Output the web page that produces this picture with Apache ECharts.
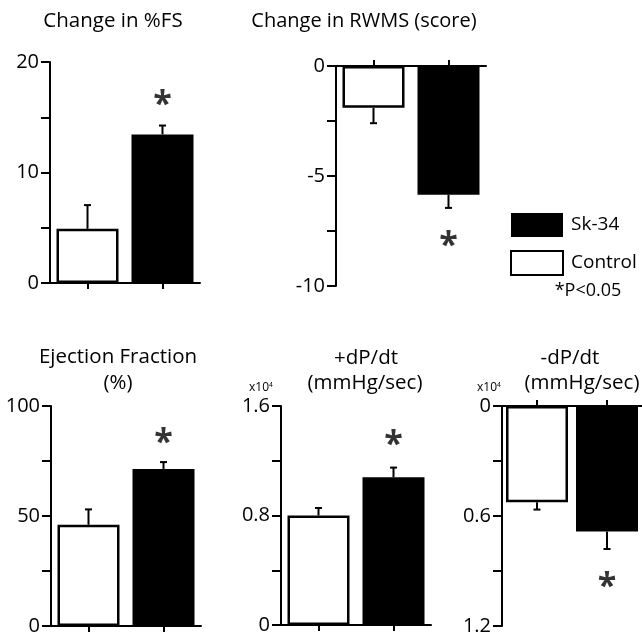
<!DOCTYPE html>
<html>
<head>
<meta charset="utf-8">
<script src="https://cdn.jsdelivr.net/npm/echarts@6/dist/echarts.min.js"></script>
<style>html,body{margin:0;padding:0;background:#fff}#c{width:642px;height:636px}</style>
</head>
<body>
<div id="c"></div>
<script>
// ---- data ----
const groups = ['Control', 'Sk-34'];
// Change in %FS
const fsMean = [4.9, 13.45];
const fsErr = [2.15, 0.8];
// Change in RWMS (score)
const rwmsMean = [-1.9, -5.85];
const rwmsErr = [0.7, 0.6];
// Ejection Fraction (%)
const efMean = [46, 71.4];
const efErr = [7, 3.1];
// +dP/dt (x10^4 mmHg/sec)
const dpPlusMean = [0.80, 1.08];
const dpPlusErr = [0.055, 0.07];
// -dP/dt (x10^4 mmHg/sec), plotted downward
const dpMinusMean = [0.525, 0.685];
const dpMinusErr = [0.04, 0.095];
// significance marker positions (value units)
const starPos = [16.9, -7.8, 87, 1.38, 0.94];
// tick settings per panel: [min, max, interval, labelStep]
const axisTicks = [[0, 20, 5, 10], [-10, 0, 2.5, 5], [0, 100, 25, 50], [0, 1.6, 0.4, 0.8], [0, 1.2, 0.3, 0.6]];

const FONT = 'Open Sans';
const panels = [
  {mean: fsMean, err: fsErr, sign: 1, top: false, inverse: false},
  {mean: rwmsMean, err: rwmsErr, sign: -1, top: true, inverse: false},
  {mean: efMean, err: efErr, sign: 1, top: false, inverse: false},
  {mean: dpPlusMean, err: dpPlusErr, sign: 1, top: false, inverse: false},
  {mean: dpMinusMean, err: dpMinusErr, sign: 1, top: true, inverse: true}
];
const grids = [
  {left: 50, top: 62, width: 150, height: 221},
  {left: 336, top: 66, width: 150, height: 220},
  {left: 51, top: 406, width: 150, height: 220},
  {left: 281, top: 406, width: 150, height: 219},
  {left: 502, top: 406, width: 150, height: 220}
];

const chart = echarts.init(document.getElementById('c'));
const xAxis = [], yAxis = [], series = [];
panels.forEach((p, i) => {
  const [mn, mx, iv, step] = axisTicks[i];
  xAxis.push({
    gridIndex: i, type: 'category', data: groups, position: p.top ? 'top' : 'bottom',
    axisLine: {show: true, onZero: false, lineStyle: {color: '#000', width: 2}},
    axisTick: {show: true, alignWithLabel: true, length: 6, lineStyle: {color: '#000', width: 2}},
    axisLabel: {show: false}, splitLine: {show: false}
  });
  yAxis.push({
    gridIndex: i, type: 'value', min: mn, max: mx, interval: iv, inverse: p.inverse,
    axisLine: {show: true, lineStyle: {color: '#000', width: 2}},
    axisTick: {show: true, length: 9, lineStyle: {color: '#000', width: 2}},
    splitLine: {show: false},
    axisLabel: {
      color: '#000', fontSize: 20, fontFamily: FONT, margin: 11,
      formatter: v => {
        const r = v / step;
        return Math.abs(r - Math.round(r)) < 1e-6 ? String(Math.round(v * 100) / 100) : '';
      }
    }
  });
  series.push({
    name: 'Control', type: 'bar', xAxisIndex: i, yAxisIndex: i, barWidth: 62, barGap: '-100%',
    data: [p.mean[0], '-'], itemStyle: {color: '#fff', borderColor: '#000', borderWidth: 2.5}, z: 3
  });
  series.push({
    name: 'Sk-34', type: 'bar', xAxisIndex: i, yAxisIndex: i, barWidth: 62, barGap: '-100%',
    data: ['-', p.mean[1]], itemStyle: {color: '#000'}, z: 3
  });
  series.push({
    type: 'custom', xAxisIndex: i, yAxisIndex: i, z: 2,
    data: p.mean.map((m, k) => [k, m, m + p.sign * p.err[k]]),
    renderItem: (params, api) => {
      const a = api.coord([api.value(0), api.value(1)]);
      const b = api.coord([api.value(0), api.value(2)]);
      return {type: 'group', children: [
        {type: 'line', shape: {x1: a[0], y1: a[1], x2: b[0], y2: b[1]}, style: {stroke: '#000', lineWidth: 2}},
        {type: 'line', shape: {x1: b[0] - 3.5, y1: b[1], x2: b[0] + 3.5, y2: b[1]}, style: {stroke: '#000', lineWidth: 2}}
      ]};
    }
  });
  series.push({
    type: 'scatter', xAxisIndex: i, yAxisIndex: i, symbolSize: 1, itemStyle: {color: 'rgba(0,0,0,0)'},
    data: [[1, starPos[i]]], silent: true,
    label: {show: true, position: 'inside', formatter: '*', fontSize: 34, fontWeight: 'bold', fontFamily: FONT, color: '#000', offset: [0, 9]}
  });
});

function txt(t, x, y, size) {
  return {type: 'text', x: x, y: y, style: {text: t, fill: '#000', fontSize: size, fontFamily: FONT, textAlign: 'center', textVerticalAlign: 'middle'}};
}
function sci(x, y) {
  return {type: 'text', x: x, y: y, style: {text: 'x10{s|4}', rich: {s: {fontSize: 7, verticalAlign: 'top', padding: [0, 0, 6, 0]}}, fill: '#000', fontSize: 12, fontFamily: FONT, textAlign: 'center', textVerticalAlign: 'middle'}};
}
const graphic = [
  txt('Change in %FS', 113, 21, 20.5),
  txt('Change in RWMS (score)', 364, 21, 20),
  txt('Ejection Fraction', 118, 357, 20.5),
  txt('(%)', 118, 383, 20.5),
  txt('+dP/dt', 366, 358, 20.5),
  txt('(mmHg/sec)', 365, 383, 20.5),
  txt('-dP/dt', 570, 358, 20.5),
  txt('(mmHg/sec)', 582, 383, 20.5),
  sci(261, 388),
  sci(489, 388),
  txt('*P<0.05', 588, 291, 18)
];

chart.setOption({
  animation: false,
  backgroundColor: '#fff',
  grid: grids,
  xAxis: xAxis,
  yAxis: yAxis,
  series: series,
  legend: {
    left: 505, top: 208, orient: 'vertical', itemWidth: 52, itemHeight: 24, itemGap: 13,
    selectedMode: false,
    textStyle: {fontSize: 19, fontFamily: FONT, color: '#000', padding: [0, 0, 0, 3]},
    data: [
      {name: 'Sk-34', icon: 'rect', itemStyle: {color: '#000', borderWidth: 0}},
      {name: 'Control', icon: 'rect', itemStyle: {color: '#fff', borderColor: '#000', borderWidth: 2}}
    ]
  },
  graphic: graphic
});
</script>
</body>
</html>
